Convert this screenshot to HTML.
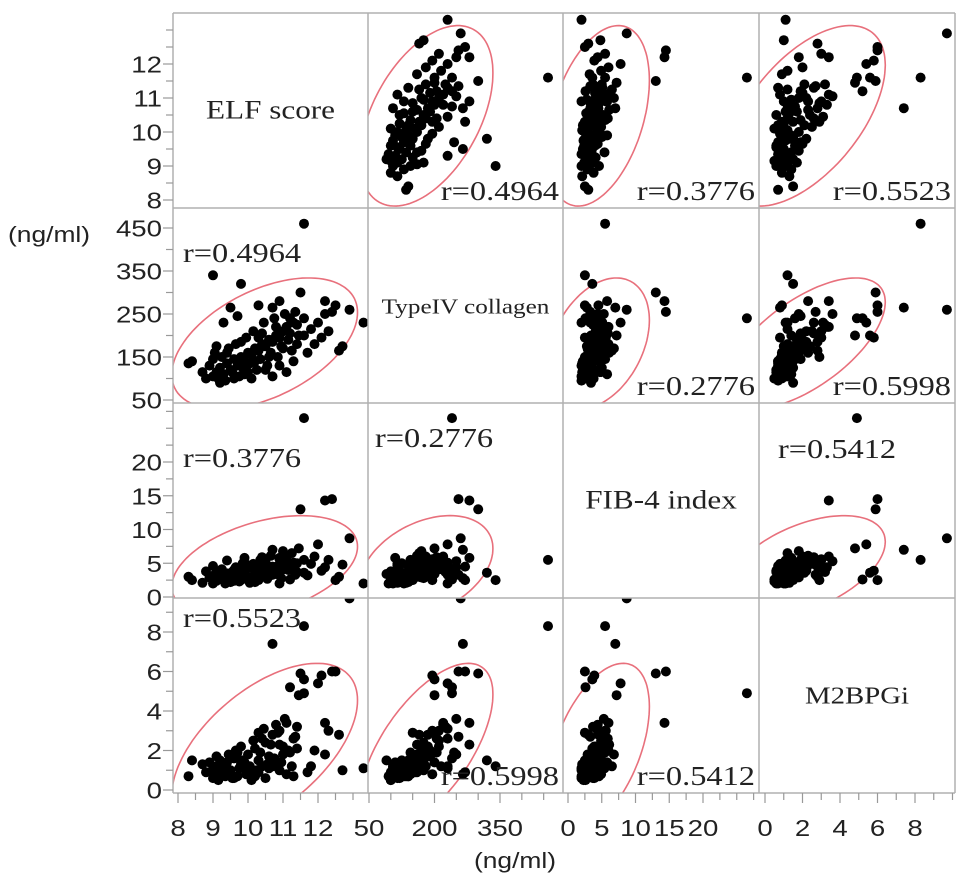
<!DOCTYPE html>
<html><head><meta charset="utf-8"><style>
html,body{margin:0;padding:0;background:#fff;}
svg{display:block;}
.tk{font-family:"Liberation Sans",Arial,sans-serif;fill:#222;}
.sr{font-family:"Liberation Serif","Times New Roman",serif;fill:#222;}
</style></head><body>
<svg id="chart" width="969" height="889" viewBox="0 0 969 889" xmlns="http://www.w3.org/2000/svg">
<text class="tk" font-size="22" transform="translate(8,242) scale(1.2,1)">(ng/ml)</text>
<text class="tk" font-size="22" transform="translate(515,868) scale(1.2,1)" text-anchor="middle">(ng/ml)</text>
</svg>
<script>
const varNames = ["ELF score","TypeIV collagen","FIB-4 index","M2BPGi"];
const elf  = [9.0,9.1,9.2,9.3,9.4,9.5,9.6,9.7,9.8,9.9,10.0,10.1,10.2,10.3,10.4,10.5,10.6,10.7,10.8,10.9,11.0,11.1,11.2,11.3,11.4,
9.05,9.15,9.25,9.35,9.45,9.55,9.65,9.75,9.85,9.95,10.05,10.15,10.25,10.35,10.45,10.55,10.65,10.75,10.85,10.95,11.05,11.15,11.25,11.35,11.45,
8.9,8.8,8.7,9.0,9.2,9.4,9.6,9.8,10.0,10.2,10.4,10.6,10.8,11.0,11.2,11.4,11.6,11.8,12.0,12.2,11.7,11.9,12.1,12.3,12.5,12.4,12.2,11.5,10.7,12.9,
11.6,9.0,11.6,13.3,8.3,8.4,12.6,12.7,9.8,10.3,9.5,10.9,9.3,9.7,10.1,10.5,10.9,11.3,9.1,9.9,10.3,10.7,11.1];
const col4 = [105,115,125,110,135,120,145,130,150,140,160,155,170,165,180,175,190,185,200,195,210,220,205,230,225,
160,100,150,95,170,115,180,105,125,195,135,210,120,145,230,130,160,240,150,175,250,190,165,255,200,
130,100,115,145,90,160,100,185,115,140,205,150,220,170,240,180,200,215,230,250,160,180,195,210,270,255,280,300,265,260,
460,340,240,230,135,140,165,175,320,270,265,280,230,245,100,120,130,140,175,110,195,105,115];
const fib4 = [2.0,2.4,3.1,2.7,3.5,2.2,4.0,3.0,2.5,3.8,4.3,2.9,3.6,4.8,3.2,5.2,3.9,4.5,3.4,5.6,4.1,6.0,4.7,5.1,3.7,
3.3,2.6,4.1,2.0,2.9,3.7,4.4,2.3,5.0,3.1,2.1,4.9,3.0,5.5,4.2,2.7,6.1,3.6,4.6,2.8,5.3,4.0,6.5,3.3,7.2,
2.9,3.8,2.1,4.6,3.4,5.4,2.4,3.9,4.7,2.2,5.9,3.1,4.4,6.8,2.6,5.0,3.6,4.9,7.8,4.4,3.2,6.0,3.9,5.5,2.5,14.5,14.3,13.0,7.0,8.7,
5.5,2.5,26.5,2.0,3.0,2.5,3.0,4.8,3.6,4.5,2.8,5.8,3.3,4.2,2.3,3.9,2.0,4.6,3.6,5.8,2.5,3.3,4.9];
const m2bp = [0.6,0.9,1.2,0.8,1.4,1.0,1.6,0.7,1.3,1.1,1.8,0.9,2.1,1.5,1.2,2.4,1.7,2.8,1.4,3.0,2.2,3.4,1.9,2.6,3.2,
1.0,0.5,1.3,0.7,1.8,0.6,2.0,1.1,1.5,0.8,1.2,2.5,1.0,1.9,3.1,1.3,2.3,1.6,2.9,1.4,3.6,2.0,1.2,2.7,4.8,
1.4,0.9,1.3,0.8,1.5,1.1,0.6,2.2,1.0,0.7,2.6,1.1,3.3,1.8,5.2,2.1,5.6,1.2,5.4,1.8,0.9,2.0,5.8,3.0,6.0,6.0,3.4,5.9,7.4,9.7,
8.3,1.2,4.9,1.1,0.7,1.5,2.8,1.0,1.5,0.9,0.8,2.3,1.2,1.9,0.5,0.6,1.0,0.7,1.7,1.4,2.9,1.2,0.8];
const rLabels = ["r=0.4964","r=0.3776","r=0.5523","r=0.2776","r=0.5998","r=0.5412"];
const yTickLabels = [[8,9,10,11,12],[50,150,250,350,450],[0,5,10,15,20],[0,2,4,6,8]];
const xTickLabels = [[8,9,10,11,12],[50,200,350],[0,5,10,15,20],[0,2,4,6,8]];
const minorStep = [0.5,50,2.5,1];

const NS="http://www.w3.org/2000/svg";
const svg=document.getElementById('chart');
const data=[elf,col4,fib4,m2bp];
const L=[173,368,563,759,955], T=[13,208,403,598,793];
const xAnch=[[8,178,12,318],[50,369,350,500],[0,568,20,703],[0,765,8,915]];
const yAnch=[[8,200,12,64],[50,400,450,228],[0,597,20,462],[0,790,8,632]];
const SX=1.2;
function sc(a){return v=>a[1]+(v-a[0])*(a[3]-a[1])/(a[2]-a[0]);}
function inv(a){return p=>a[0]+(p-a[1])*(a[2]-a[0])/(a[3]-a[1]);}
const xs=xAnch.map(sc), ys=yAnch.map(sc);
function el(t,at,p){const e=document.createElementNS(NS,t);for(const k in at)e.setAttribute(k,at[k]);(p||svg).appendChild(e);return e;}
function txt(x,y,cls,size,anchor,str,p){
  const t=el('text',{transform:'translate('+x+','+y+') scale('+SX+',1)',class:cls,'font-size':size,'text-anchor':anchor},p);
  t.textContent=str;return t;
}

const defs=el('defs',{});
for(let i=0;i<4;i++)for(let j=0;j<4;j++){
  const cp=el('clipPath',{id:'c'+i+'_'+j},defs);
  el('rect',{x:L[j],y:T[i],width:L[j+1]-L[j],height:T[i+1]-T[i]},cp);
}
function mean(a){return a.reduce((s,v)=>s+v,0)/a.length;}
const pairIdx={};let pk=0;
for(let i=0;i<4;i++)for(let j=i+1;j<4;j++){pairIdx[i+'_'+j]=pk++;}
const topLeft={'1_0':[183,262],'2_0':[183,467],'2_1':[375,447],'3_0':[183,627],'2_3':[778,458]};

for(let i=0;i<4;i++){
  for(let j=0;j<4;j++){
    const g=el('g',{'clip-path':'url(#c'+i+'_'+j+')'});
    
    
    if(i===j){
      const sizes=[26,21,26,24];
      const t=txt((L[j]+L[j+1])/2,(T[i]+T[i+1])/2+8,'sr',sizes[i],'middle',varNames[i],g);
      
      
      continue;
    }
    const X=data[j],Y=data[i];
    const mx=mean(X),my=mean(Y);let sxx=0,syy=0,sxy=0;
    for(let k=0;k<X.length;k++){sxx+=(X[k]-mx)**2;syy+=(Y[k]-my)**2;sxy+=(X[k]-mx)*(Y[k]-my);}
    const n=X.length-1;sxx/=n;syy/=n;sxy/=n;
    const r=sxy/Math.sqrt(sxx*syy),c=Math.sqrt(5.991);
    let d='';
    for(let s=0;s<=120;s++){
      const th=s/120*2*Math.PI;
      const u=Math.cos(th),w=Math.sin(th);
      const vx=mx+c*Math.sqrt(sxx)*u;
      const vy=my+c*Math.sqrt(syy)*(r*u+Math.sqrt(1-r*r)*w);
      d+=(s?'L':'M')+xs[j](vx).toFixed(1)+' '+ys[i](vy).toFixed(1);
    }
    const e=el('path',{d:d+'Z',fill:'none',stroke:'#e8707c','stroke-width':1.6},g);
    
    
    for(let k=0;k<X.length;k++){
      const p=el('circle',{cx:xs[j](X[k]).toFixed(1),cy:ys[i](Y[k]).toFixed(1),r:5,fill:'#000'},g);
      
      
    }
    const lab=rLabels[pairIdx[Math.min(i,j)+'_'+Math.max(i,j)]];
    const tl=topLeft[i+'_'+j];
    let t;
    if(tl){ t=txt(tl[0],tl[1],'sr',27,'start',lab); }
    else { t=txt(L[j+1]-4,T[i+1]-8,'sr',27,'end',lab); }
    
    
  }
}
for(let k=0;k<5;k++){
  const a=el('line',{x1:L[k],y1:T[0],x2:L[k],y2:T[4],stroke:'#b0b0b0','stroke-width':1.5});
  
  
  const b=el('line',{x1:L[0],y1:T[k],x2:L[4],y2:T[k],stroke:'#b0b0b0','stroke-width':1.5});
  
  
}
for(let i=0;i<4;i++){
  const iv=inv(yAnch[i]);const lo=iv(T[i+1]),hi=iv(T[i]);
  const st=minorStep[i];
  const maj=yTickLabels[i];
  for(let v=Math.ceil(lo/st)*st;v<=hi+1e-9;v+=st){
    const y=ys[i](v);if(y<T[i]+1||y>T[i+1]+1)continue;
    const isMaj=maj.some(m=>Math.abs(m-v)<1e-6);
    const tk=el('line',{x1:L[0]-(isMaj?10:7),y1:y,x2:L[0],y2:y,stroke:'#999','stroke-width':1.2});
    
    
  }
  maj.forEach(v=>{
    const t=txt(L[0]-11,ys[i](v)+8.5,'tk',23,'end',String(v));
    
    
  });
}
for(let j=0;j<4;j++){
  const iv=inv(xAnch[j]);const lo=iv(L[j]),hi=iv(L[j+1]);
  const st=minorStep[j];
  const maj=xTickLabels[j];
  for(let v=Math.ceil(lo/st)*st;v<=hi+1e-9;v+=st){
    const x=xs[j](v);if(x<L[j]-2||x>L[j+1]-1)continue;
    const isMaj=maj.some(m=>Math.abs(m-v)<1e-6);
    const tk=el('line',{x1:x,y1:T[4],x2:x,y2:T[4]+(isMaj?10:7),stroke:'#999','stroke-width':1.2});
    
    
  }
  maj.forEach(v=>{
    const t=txt(xs[j](v),T[4]+43,'tk',23,'middle',String(v));
    
    
  });
}
</script>
</body></html>
